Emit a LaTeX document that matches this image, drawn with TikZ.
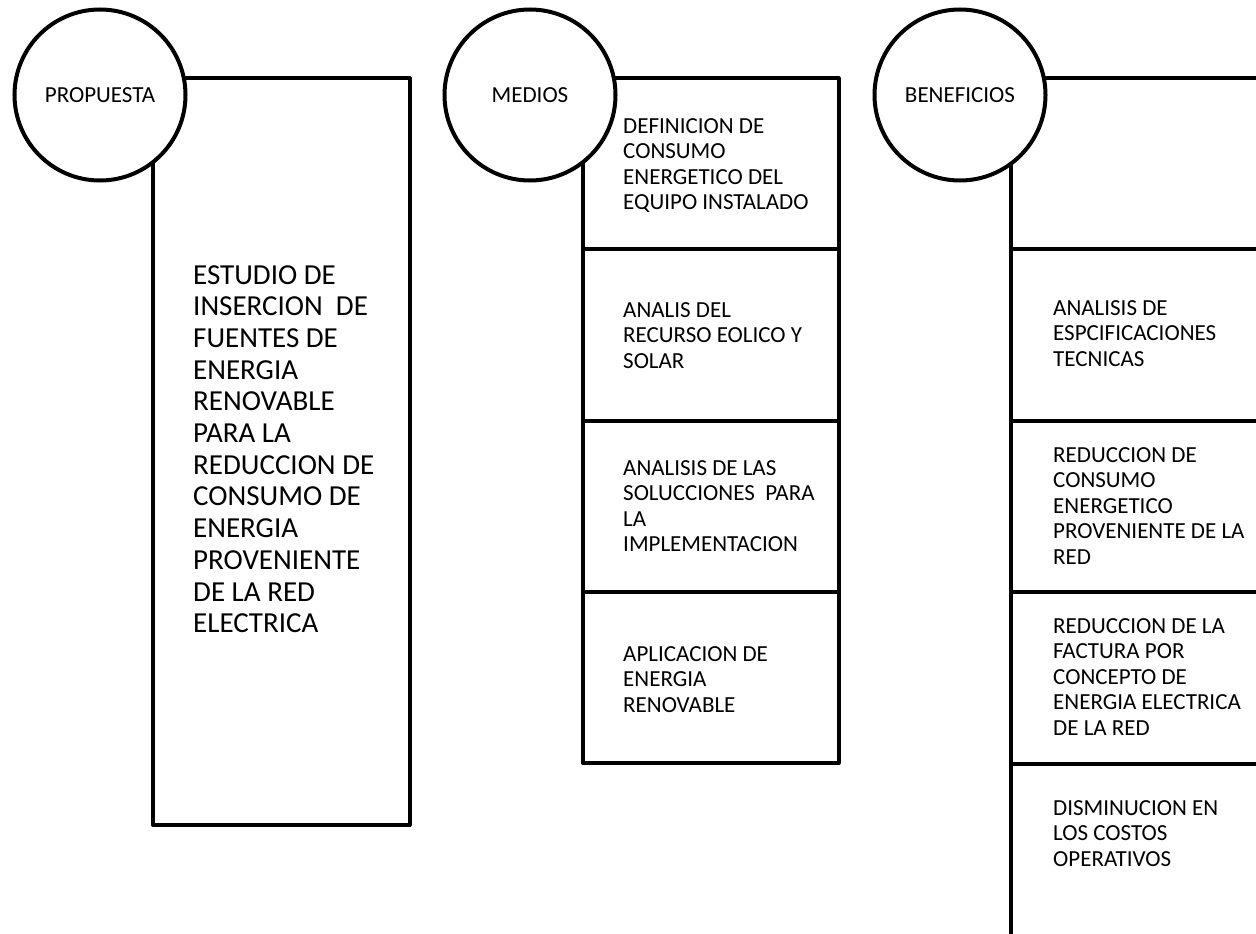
\documentclass[tikz,border=0pt]{standalone}
\usepackage{fontspec}
\setmainfont{Carlito}
\begin{document}
\begin{tikzpicture}[x=1pt,y=-1pt,
  box/.style={line width=4pt, line join=round},
  disc/.style={circle, draw, line width=4pt, fill=white, minimum size=171pt, inner sep=0pt},
  lbl/.style={font=\fontsize{23}{25.5}\selectfont},
  small/.style={anchor=north west, inner sep=0pt, align=left, font=\fontsize{23}{25.5}\selectfont},
  big/.style={anchor=north west, inner sep=0pt, align=left, font=\fontsize{29}{31.7}\selectfont}]
\useasboundingbox (0,0) rectangle (1256,934);
% column 1
\draw[box] (153,78.5) rectangle (409.5,825);
% column 2
\draw[box] (582.5,78.5) rectangle (838.5,763);
\draw[box] (582.5,248.5) -- (838.5,248.5);
\draw[box] (582.5,420.5) -- (838.5,420.5);
\draw[box] (582.5,592) -- (838.5,592);
% column 3 (runs past the right and bottom edges)
\draw[box] (1011,78.5) rectangle (1300,936);
\draw[box] (1011,248.5) -- (1300,248.5);
\draw[box] (1011,420.5) -- (1300,420.5);
\draw[box] (1011,592) -- (1300,592);
\draw[box] (1011,764) -- (1300,764);
% circles
\node[disc] (c1) at (100,95) {};
\node[disc] (c2) at (530,95) {};
\node[disc] (c3) at (960,95) {};
\node[lbl] (l1) at (c1) {PROPUESTA};
\node[lbl] (l2) at (c2) {MEDIOS};
\node[lbl] (l3) at (c3) {BENEFICIOS};
% texts
\node[big] (p1) at (193,265) {ESTUDIO DE\\INSERCION\ \ DE\\FUENTES DE\\ENERGIA\\RENOVABLE\\PARA LA\\REDUCCION DE\\CONSUMO DE\\ENERGIA\\PROVENIENTE\\DE LA RED\\ELECTRICA};
\node[small] (m1) at (623,118) {DEFINICION DE\\CONSUMO\\ENERGETICO DEL\\EQUIPO INSTALADO};
\node[small] (m2) at (623,302) {ANALIS DEL\\RECURSO EOLICO Y\\SOLAR};
\node[small] (m3) at (623,460) {ANALISIS DE LAS\\SOLUCCIONES\ \ PARA\\LA\\IMPLEMENTACION};
\node[small] (m4) at (623,646) {APLICACION DE\\ENERGIA\\RENOVABLE};
\node[small] (b1) at (1053,300) {ANALISIS DE\\ESPCIFICACIONES\\TECNICAS};
\node[small] (b2) at (1053,447) {REDUCCION DE\\CONSUMO\\ENERGETICO\\PROVENIENTE DE LA\\RED};
\node[small] (b3) at (1053,618) {REDUCCION DE LA\\FACTURA POR\\CONCEPTO DE\\ENERGIA ELECTRICA\\DE LA RED};
\node[small] (b4) at (1053,800) {DISMINUCION EN\\LOS COSTOS\\OPERATIVOS};
\end{tikzpicture}
\end{document}
